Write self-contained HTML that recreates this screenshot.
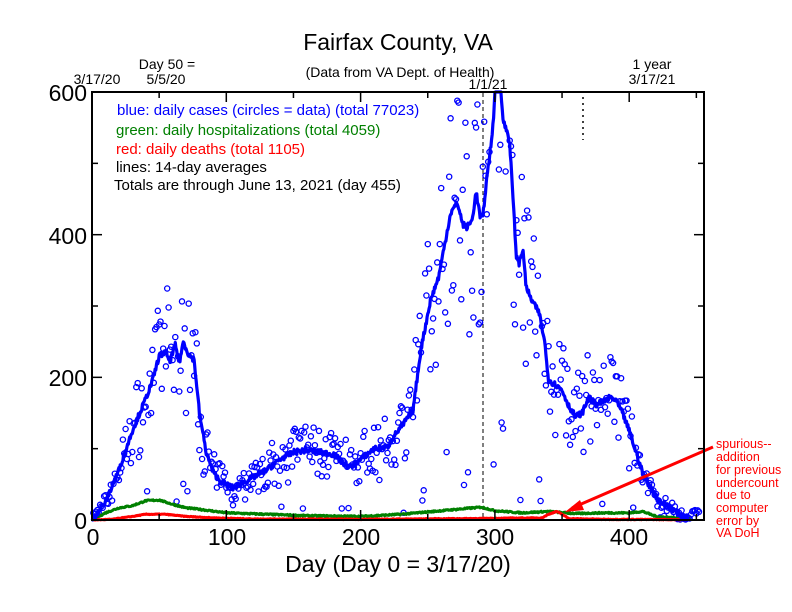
<!DOCTYPE html>
<html><head><meta charset="utf-8"><style>
html,body{margin:0;padding:0;background:#fff;}
svg{display:block;font-family:"Liberation Sans",Arial,sans-serif;}
</style></head><body>
<svg id="s" width="792" height="612" xmlns="http://www.w3.org/2000/svg">
<rect width="792" height="612" fill="#fff"/>
<text x="398" y="50" font-size="23" text-anchor="middle">Fairfax County, VA</text>
<text x="400" y="77" font-size="14" text-anchor="middle">(Data from VA Dept. of Health)</text>
<text x="167" y="69" font-size="14" text-anchor="middle">Day 50 =</text>
<text x="97" y="84" font-size="14" text-anchor="middle">3/17/20</text>
<text x="166" y="84" font-size="14" text-anchor="middle">5/5/20</text>
<text x="488" y="89" font-size="14" text-anchor="middle">1/1/21</text>
<text x="652" y="69" font-size="14" text-anchor="middle">1 year</text>
<text x="652" y="84" font-size="14" text-anchor="middle">3/17/21</text>
<g font-size="15">
<text x="117" y="115" fill="#0000ff">blue: daily cases (circles = data) (total 77023)</text>
<text x="116" y="135" fill="#008000">green: daily hospitalizations (total 4059)</text>
<text x="116" y="154" fill="#ff0000">red: daily deaths (total 1105)</text>
<text x="116" y="172" fill="#000">lines: 14-day averages</text>
<text x="114" y="190" fill="#000">Totals are through June 13, 2021 (day 455)</text>
</g>
<g font-size="23" text-anchor="end">
<text x="87" y="101">600</text><text x="87" y="244">400</text><text x="87" y="386">200</text><text x="87" y="529">0</text>
</g>
<g font-size="23" text-anchor="middle">
<text x="93" y="545">0</text><text x="227" y="545">100</text><text x="361" y="545">200</text><text x="495" y="545">300</text><text x="629" y="545">400</text>
</g>
<text x="398" y="572" font-size="23" text-anchor="middle">Day (Day 0 = 3/17/20)</text>
<g font-size="12.5" fill="#ff0000">
<text x="716" y="448">spurious--</text><text x="716" y="461">addition</text><text x="716" y="474">for previous</text><text x="716" y="487">undercount</text><text x="716" y="499">due to</text><text x="716" y="512">computer</text><text x="716" y="525">error by</text><text x="716" y="537">VA DoH</text>
</g>
<line x1="483" y1="93" x2="483" y2="520" stroke="#000" stroke-width="1" stroke-dasharray="4,3"/>
<line x1="583" y1="97" x2="583" y2="140" stroke="#000" stroke-width="1.5" stroke-dasharray="2,4"/>
<g id="data"></g>
<line x1="713" y1="447" x2="572" y2="508" stroke="#ff0000" stroke-width="3"/>
<polygon points="565,512 580,500 584,510" fill="#ff0000"/>
<g id="ticks" stroke="#000" stroke-width="1.5"></g>
<rect x="92" y="92" width="612" height="428" fill="none" stroke="#000" stroke-width="2"/>
</svg>
<script>
var NS="http://www.w3.org/2000/svg";
function X(d){return 92+d*1.343;}
function Y(v){return 520-v*0.7133;}
var seed=7;function rnd(){seed=(seed*16807)%2147483647;return (seed-1)/2147483646;}
function interp(k,d){for(var i=0;i<k.length-1;i++){if(d>=k[i][0]&&d<=k[i+1][0]){var t=(d-k[i][0])/(k[i+1][0]-k[i][0]);return k[i][1]+(k[i+1][1]-k[i][1])*t;}}return k[k.length-1][1];}
var B=[[0,0],[10,25],[20,70],[30,125],[40,170],[45,195],[50,230],[55,235],[58,222],[62,245],[65,220],[68,250],[72,232],[76,225],[80,150],[85,95],[90,68],[95,55],[100,50],[105,45],[110,50],[120,60],[130,70],[140,85],[150,95],[160,98],[170,95],[180,92],[187,80],[192,74],[200,85],[210,100],[220,102],[225,118],[232,135],[239,154],[245,240],[252,308],[258,340],[262,380],[267,430],[272,445],[276,415],[279,410],[283,420],[286,460],[289,425],[291,425],[294,480],[296,510],[299,560],[301,640],[304,620],[306,560],[309,545],[311,530],[316,370],[318,360],[321,380],[323,330],[326,313],[333,290],[337,250],[340,196],[345,190],[350,182],[355,160],[360,145],[365,150],[370,172],[375,162],[380,165],[386,172],[390,168],[395,150],[400,125],[410,66],[416,45],[422,28],[430,18],[440,5],[445,0]];
var G=[[0,0],[10,10],[20,17],[30,20],[40,27],[50,28],[60,22],[70,17],[80,15],[100,10],[130,8],[160,6],[200,5],[230,8],[260,13],[290,18],[300,13],[320,10],[340,12],[360,9],[380,10],[400,10],[410,12],[420,5],[440,2],[445,1]];
var R=[[0,0],[15,1],[30,5],[40,8],[55,8],[70,5],[90,3],[120,1.5],[200,1],[280,2],[335,3],[340,8],[346,12],[350,8],[355,2],[380,1],[440,0.5],[445,0]];
var g=document.getElementById("data");
function line(k,col,w,jit){var p=[];for(var d=0;d<=445;d+=0.5){var v=interp(k,d)+(jit?(rnd()-0.5)*jit:0);if(v<0)v=0;p.push(X(d).toFixed(1)+","+Math.max(Y(v),92).toFixed(1));}
var e=document.createElementNS(NS,"polyline");e.setAttribute("points",p.join(" "));e.setAttribute("fill","none");e.setAttribute("stroke",col);e.setAttribute("stroke-width",w);e.setAttribute("stroke-linejoin","round");g.appendChild(e);}
for(var d=1;d<=452;d++){var base=interp(B,Math.min(d,445));var v=base*(1+(rnd()-0.5)*0.75)+(rnd()-0.5)*20;if(d>445)v=5+rnd()*10;if(rnd()<0.04)v=base*(0.05+rnd()*0.2);if(v<0)v=rnd()*5;if(v>600)continue;
var c=document.createElementNS(NS,"circle");c.setAttribute("cx",X(d).toFixed(1));c.setAttribute("cy",Y(v).toFixed(1));c.setAttribute("r","2.6");c.setAttribute("fill","none");c.setAttribute("stroke","#0000ff");c.setAttribute("stroke-width","1.3");g.appendChild(c);}
line(G,"#008000",3,2);
line(R,"#ff0000",3,1);
line(B,"#0000ff",3.2,8);
var t=document.getElementById("ticks"),s="";
for(var d=0;d<=450;d+=50){var x=X(d),L=(d%100==0)?10:6;s+='<line x1="'+x+'" y1="520" x2="'+x+'" y2="'+(520-L)+'"/><line x1="'+x+'" y1="92" x2="'+x+'" y2="'+(92+L)+'"/>';}
for(var v=0;v<=600;v+=100){var y=Y(v),L=(v%200==0)?10:6;s+='<line x1="92" y1="'+y+'" x2="'+(92+L)+'" y2="'+y+'"/><line x1="704" y1="'+y+'" x2="'+(704-L)+'" y2="'+y+'"/>';}
t.innerHTML=s;
</script>
</body></html>
